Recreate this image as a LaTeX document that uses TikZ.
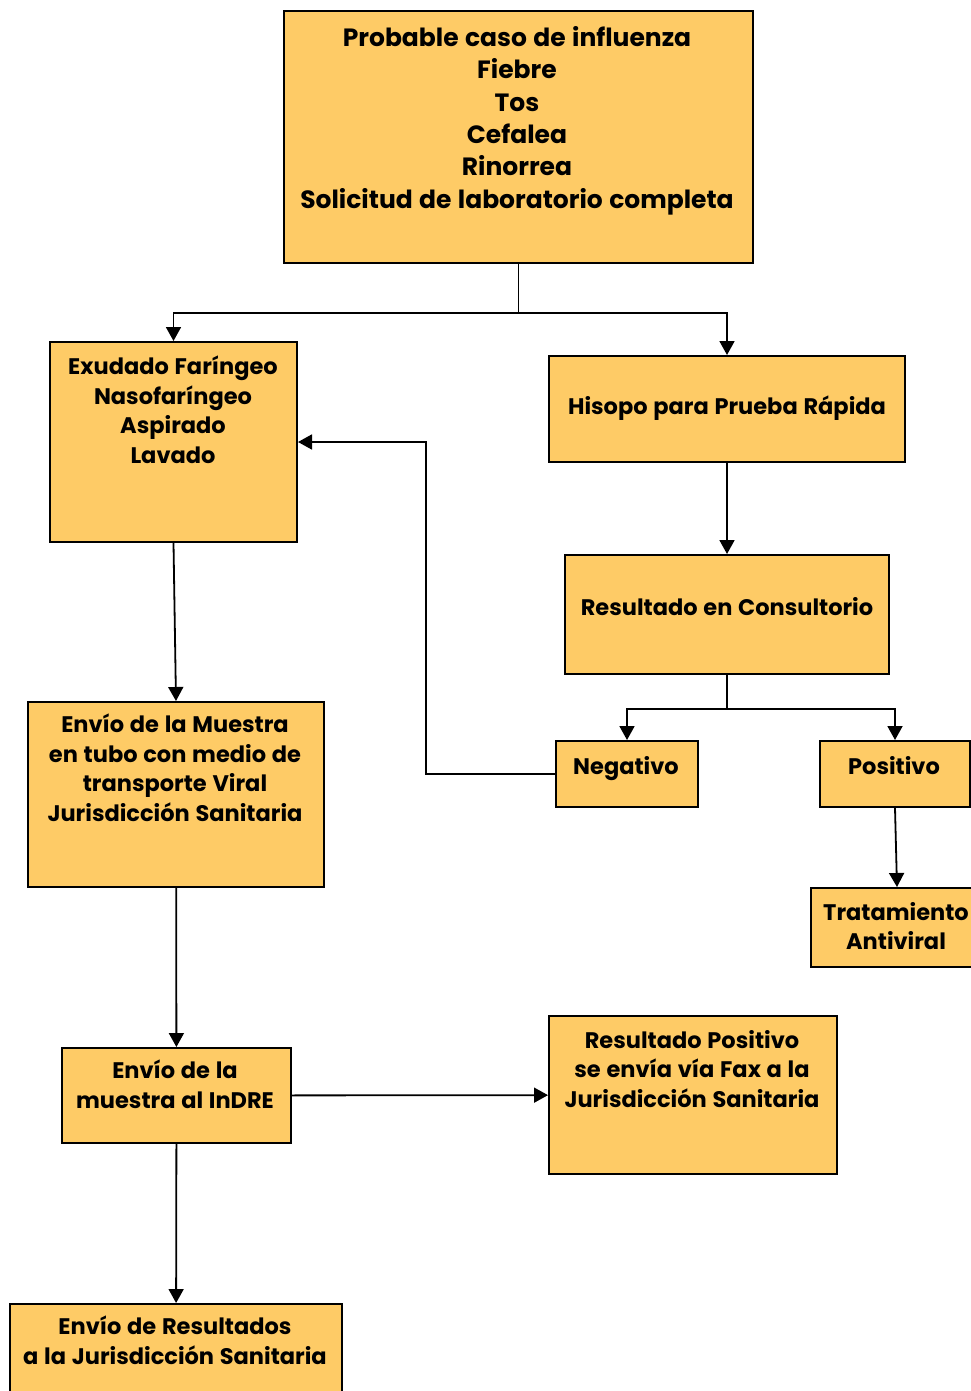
\documentclass[tikz,border=0pt]{standalone}
\usepackage{fontspec}
\setmainfont{Poppins}[WordSpace=1.2]
\usetikzlibrary{arrows.meta, positioning}
\definecolor{boxfill}{HTML}{FECB66}
\tikzset{
  box/.style={draw=black, line width=2pt, fill=boxfill, anchor=north west,
              inner sep=0pt},
  txt/.style={align=center, anchor=north, inner sep=0pt,
              font=\fontsize{22.5}{29.5}\selectfont\bfseries},
  txtwide/.style={txt, font=\fontsize{25}{32.4}\selectfont\bfseries},
  flow/.style={-{Triangle[length=14pt, width=15pt]}, line width=1.8pt},
  link/.style={line width=1.8pt},
}

\begin{document}
\begin{tikzpicture}[x=1pt, y=-1pt]
  \useasboundingbox (0,0) rectangle (971,1391);
  % boxes
  \node[box, minimum width=469pt, minimum height=252pt] (caso) at (283,10) {};
  \node[box, minimum width=247pt, minimum height=200pt] (exud) at (49,341) {};
  \node[box, minimum width=356pt, minimum height=106pt] (hisopo) at (548,355) {};
  \node[box, minimum width=324pt, minimum height=119pt] (consult) at (564,554) {};
  \node[box, minimum width=142pt, minimum height=66pt] (neg) at (555,740) {};
  \node[box, minimum width=150pt, minimum height=66pt] (pos) at (819,740) {};
  \node[box, minimum width=172pt, minimum height=79pt] (trat) at (810,887) {};
  \node[box, minimum width=296pt, minimum height=185pt] (muestra) at (27,701) {};
  \node[box, minimum width=229pt, minimum height=95pt] (indre) at (61,1047) {};
  \node[box, minimum width=288pt, minimum height=158pt] (fax) at (548,1015) {};
  \node[box, minimum width=332pt, minimum height=100pt] (envres) at (9,1303) {};

  % texts
  \node[txtwide] (casoT) at (517,26) {Probable caso de influenza\\Fiebre\\Tos\\Cefalea\\Rinorrea\\Solicitud de laboratorio completa};
  \node[txt] (exudT) at (173,356) {Exudado Faríngeo\\Nasofaríngeo\\Aspirado\\Lavado};
  \node[txt] (hisopoT) at (727,396) {Hisopo para Prueba Rápida};
  \node[txt] (consultT) at (727,597) {Resultado en Consultorio};
  \node[txt] (negT) at (626,756) {Negativo};
  \node[txt] (posT) at (894,756) {Positivo};
  \node[txt] (tratT) at (896,902) {Tratamiento\\Antiviral};
  \node[txt] (muestraT) at (175,714) {Envío de la Muestra\\en tubo con medio de\\transporte Viral\\Jurisdicción Sanitaria};
  \node[txt] (indreT) at (175,1060) {Envío de la\\muestra al InDRE};
  \node[txt] (faxT) at (692,1030) {Resultado Positivo\\se envía vía Fax a la\\Jurisdicción Sanitaria};
  \node[txt] (envresT) at (175,1316) {Envío de Resultados\\a la Jurisdicción Sanitaria};

  % connectors
  \draw[link] (caso.south) -- ++(0,49) coordinate (split);
  \draw[flow] (split) -| (exud.north);
  \draw[flow] (split) -| (hisopo.north);
  \draw[flow] (hisopo) -- (consult);
  \draw[link] (consult.south) -- ++(0,34) coordinate (split2);
  \draw[flow] (split2) -| (neg.north);
  \draw[flow] (split2) -| (pos.north);
  \draw[flow] (pos.south) -- (trat.north);
  \draw[flow] (neg.west) -- ++(-129,0) |- (exud.east);
  \draw[flow] (exud.south) -- (muestra.north);
  \draw[flow] (muestra) -- (indre);
  \draw[flow] (indre) -- (fax);
  \draw[flow] (indre) -- (envres);
\end{tikzpicture}
\end{document}
